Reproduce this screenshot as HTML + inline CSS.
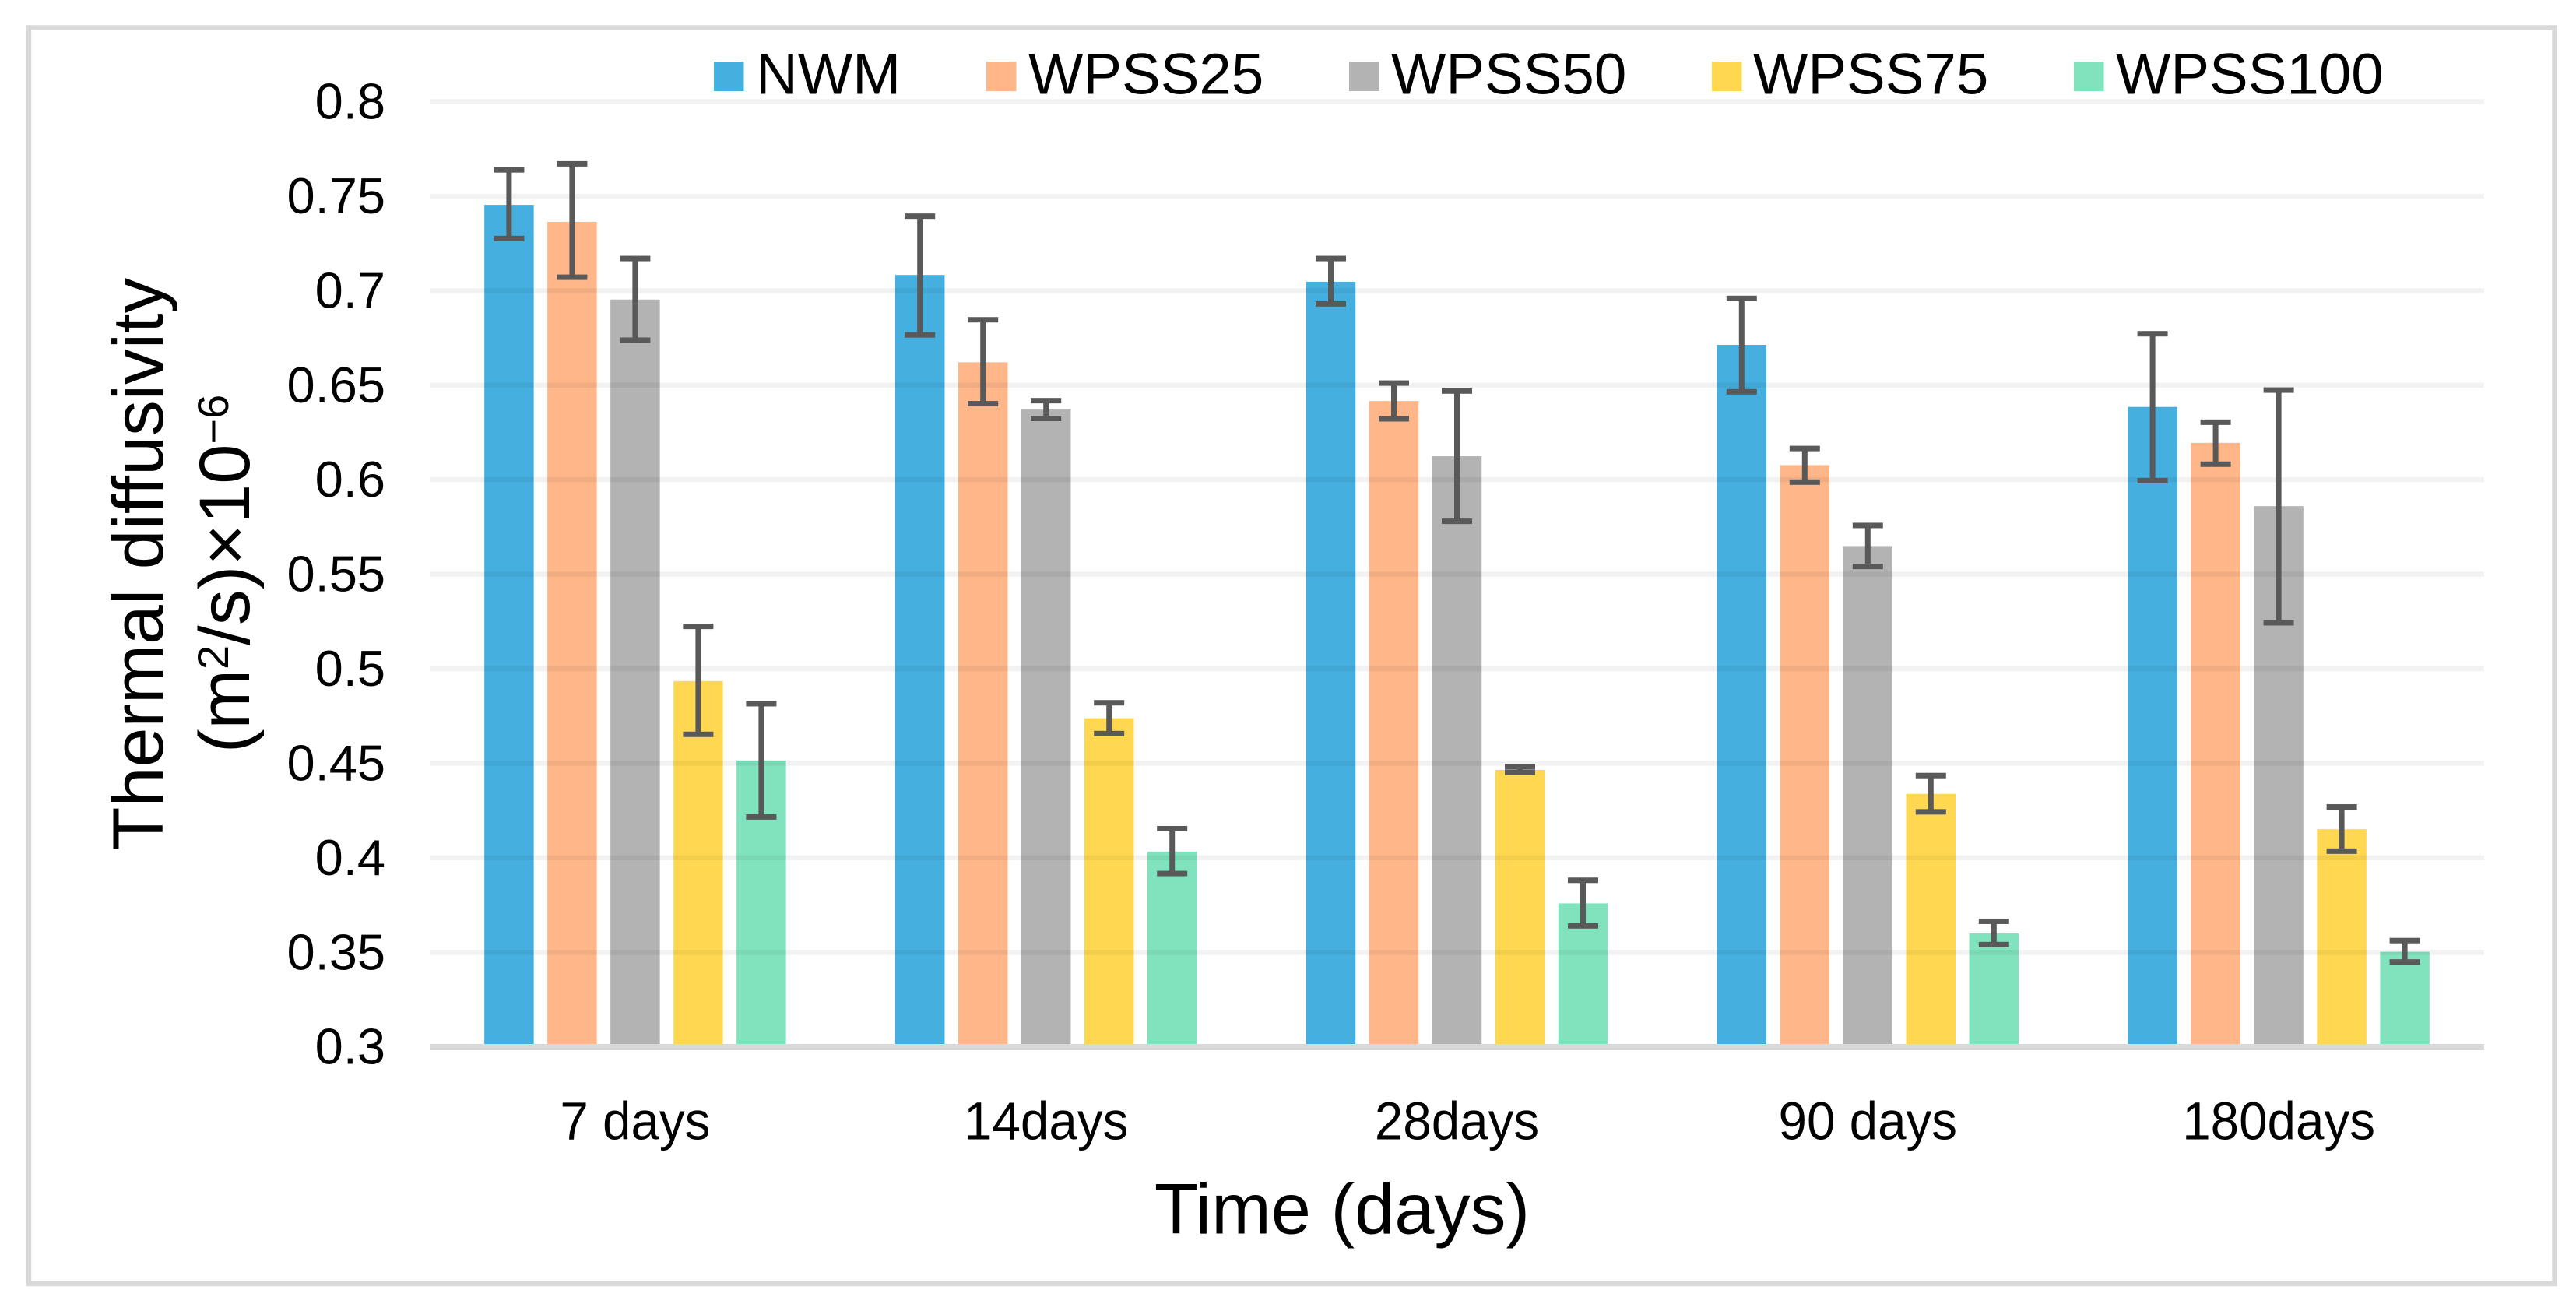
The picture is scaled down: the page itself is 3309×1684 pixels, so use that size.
<!DOCTYPE html>
<html lang="en">
<head>
<meta charset="utf-8">
<title>Thermal diffusivity over time</title>
<style>
  html, body { margin: 0; padding: 0; background: #fff; }
  svg { display: block; font-family: "Liberation Sans", Arial, sans-serif; }
</style>
</head>
<body>
<svg id="chart" xmlns="http://www.w3.org/2000/svg" width="3309" height="1684" viewBox="0 0 3309 1684">
  <rect x="0" y="0" width="3309" height="1684" fill="#ffffff"/>
  <rect x="37" y="35.5" width="3244.5" height="1613.5" fill="#ffffff" stroke="#d9d9d9" stroke-width="6.5"/>
  <g id="bars"></g>
  <g id="grid"></g>
  <rect x="552" y="1341" width="2639" height="8" fill="#d9d9d9"/>
  <g id="errors"></g>
  <g id="yticks"></g>
  <g id="xticks"></g>
  <g id="legend"></g>
  <text x="1724" y="1584.5" font-size="92" text-anchor="middle" fill="#000">Time (days)</text>
  <text transform="translate(209,724.5) rotate(-90)" font-size="91.5" text-anchor="middle" fill="#000">Thermal diffusivity</text>
  <text transform="translate(320,737) rotate(-90)" font-size="92" text-anchor="middle" fill="#000">(m<tspan font-size="56" dy="-27">2</tspan><tspan dy="27">/s)×10</tspan><tspan font-size="56" dy="-27">−6</tspan></text>
</svg>
<script>
const categories = ["7 days", "14days", "28days", "90 days", "180days"];
const seriesNames = ["NWM", "WPSS25", "WPSS50", "WPSS75", "WPSS100"];
const seriesColors = ["#45afdf", "#ffb689", "#b3b3b3", "#ffd750", "#80e3bd"];
const yTickLabels = ["0.3", "0.35", "0.4", "0.45", "0.5", "0.55", "0.6", "0.65", "0.7", "0.75", "0.8"];

const nwmValues = [0.7454, 0.7083, 0.7047, 0.6713, 0.6385];
const wpss25Values = [0.7364, 0.6621, 0.6416, 0.6077, 0.6195];
const wpss50Values = [0.6953, 0.6371, 0.6124, 0.5649, 0.586];
const wpss75Values = [0.4935, 0.4738, 0.4465, 0.4338, 0.4151];
const wpss100Values = [0.4515, 0.4033, 0.3759, 0.36, 0.3503];

const nwmHigh = [0.7639, 0.7394, 0.717, 0.6959, 0.6772];
const nwmLow = [0.7276, 0.6766, 0.693, 0.6465, 0.5995];
const wpss25High = [0.7671, 0.6846, 0.6511, 0.6165, 0.6304];
const wpss25Low = [0.7071, 0.6402, 0.6322, 0.5987, 0.6082];
const wpss50High = [0.717, 0.6418, 0.6469, 0.5758, 0.6474];
const wpss50Low = [0.6738, 0.6324, 0.578, 0.5541, 0.5243];
const wpss75High = [0.5224, 0.482, 0.4482, 0.4435, 0.4269];
const wpss75Low = [0.4653, 0.4657, 0.4452, 0.4243, 0.4035];
const wpss100High = [0.4815, 0.4154, 0.3881, 0.3664, 0.3562];
const wpss100Low = [0.4216, 0.3917, 0.364, 0.3541, 0.3449];

const seriesValues = [nwmValues, wpss25Values, wpss50Values, wpss75Values, wpss100Values];
const seriesHigh = [nwmHigh, wpss25High, wpss50High, wpss75High, wpss100High];
const seriesLow = [nwmLow, wpss25Low, wpss50Low, wpss75Low, wpss100Low];

const NS = "http://www.w3.org/2000/svg";
const plotLeft = 552, plotRight = 3191;
const yBase = 1344.7, yPerUnit = 2428.4, yMin = 0.3;
const barPitch = 81, barWidth = 63.5, capWidth = 39, lineWidth = 7;
const categoryWidth = (plotRight - plotLeft) / categories.length;

function yScale(v) { return yBase - (v - yMin) * yPerUnit; }
function xScale(catIndex, seriesIndex) {
  return plotLeft + categoryWidth * (catIndex + 0.5) + (seriesIndex - (seriesNames.length - 1) / 2) * barPitch;
}
function slug(s) { return s.toLowerCase().replace(/\s+/g, '-'); }
function makeRect(parent, x, y, w, h, fill) {
  const r = document.createElementNS(NS, 'rect');
  r.setAttribute('x', x);
  r.setAttribute('y', y);
  r.setAttribute('width', w);
  r.setAttribute('height', h);
  r.setAttribute('fill', fill);
  parent.appendChild(r);
  return r;
}
function makeText(parent, content, size, anchor) {
  const t = document.createElementNS(NS, 'text');
  t.setAttribute('font-size', size);
  t.setAttribute('text-anchor', anchor);
  t.setAttribute('fill', '#000');
  t.textContent = content;
  parent.appendChild(t);
  return t;
}

const barsG = document.getElementById('bars');
const gridG = document.getElementById('grid');
const errorsG = document.getElementById('errors');
const yTicksG = document.getElementById('yticks');
const xTicksG = document.getElementById('xticks');
const legendG = document.getElementById('legend');

seriesNames.forEach(function (name, s) {
  categories.forEach(function (cat, c) {
    const cx = xScale(c, s);
    const top = yScale(seriesValues[s][c]);
    const bar = makeRect(barsG, cx - barWidth / 2, top, barWidth, yBase - top, seriesColors[s]);
    
    

    const hi = yScale(seriesHigh[s][c]);
    const lo = yScale(seriesLow[s][c]);
    const err = document.createElementNS(NS, 'g');
    
    
    makeRect(err, cx - lineWidth / 2, hi, lineWidth, lo - hi, '#595959');
    makeRect(err, cx - capWidth / 2, hi - lineWidth / 2, capWidth, lineWidth, '#595959');
    makeRect(err, cx - capWidth / 2, lo - lineWidth / 2, capWidth, lineWidth, '#595959');
    errorsG.appendChild(err);
  });
});

yTickLabels.forEach(function (label) {
  const y = yScale(parseFloat(label));
  if (parseFloat(label) > yMin) {
    const line = makeRect(gridG, plotLeft, y - 3.25, plotRight - plotLeft, 6.5, '#000000');
    line.setAttribute('fill-opacity', '0.05');
    
    
  }
  const t = makeText(yTicksG, label, 65, 'end');
  t.setAttribute('x', 495);
  t.setAttribute('y', y + 22);
  
  
});

categories.forEach(function (cat, c) {
  const t = makeText(xTicksG, cat, 69, 'middle');
  t.setAttribute('transform', 'translate(' + (plotLeft + categoryWidth * (c + 0.5)) + ',1463.5) scale(0.95,1)');
  
  
});

const legendSwatchX = [917, 1267, 1733, 2199, 2664];
const legendTextX = [971, 1321, 1787, 2252, 2718];
seriesNames.forEach(function (name, s) {
  const swatch = makeRect(legendG, legendSwatchX[s], 79, 38.5, 38, seriesColors[s]);
  
  
  const t = makeText(legendG, name, 74.5, 'start');
  t.setAttribute('x', legendTextX[s]);
  t.setAttribute('y', 120.5);
  
  
});
</script>
</body>
</html>
